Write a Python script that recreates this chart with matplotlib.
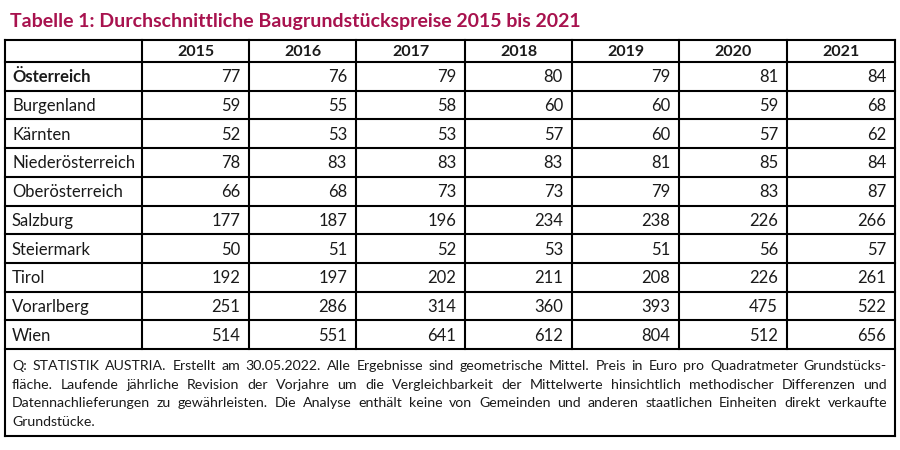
import matplotlib
matplotlib.use("Agg")
import matplotlib.pyplot as plt

# ---- data ----
title = "Tabelle 1: Durchschnittliche Baugrundstückspreise 2015 bis 2021"
years = ["2015", "2016", "2017", "2018", "2019", "2020", "2021"]
regions = ["Österreich", "Burgenland", "Kärnten", "Niederösterreich", "Oberösterreich",
           "Salzburg", "Steiermark", "Tirol", "Vorarlberg", "Wien"]
oesterreich = [77, 76, 79, 80, 79, 81, 84]
burgenland = [59, 55, 58, 60, 60, 59, 68]
kaernten = [52, 53, 53, 57, 60, 57, 62]
niederoesterreich = [78, 83, 83, 83, 81, 85, 84]
oberoesterreich = [66, 68, 73, 73, 79, 83, 87]
salzburg = [177, 187, 196, 234, 238, 226, 266]
steiermark = [50, 51, 52, 53, 51, 56, 57]
tirol = [192, 197, 202, 211, 208, 226, 261]
vorarlberg = [251, 286, 314, 360, 393, 475, 522]
wien = [514, 551, 641, 612, 804, 512, 656]
values = [oesterreich, burgenland, kaernten, niederoesterreich, oberoesterreich,
          salzburg, steiermark, tirol, vorarlberg, wien]
footnote_lines = [
    "Q: STATISTIK AUSTRIA. Erstellt am 30.05.2022. Alle Ergebnisse sind geometrische Mittel. Preis in Euro pro Quadratmeter Grundstücks-",
    "fläche. Laufende jährliche Revision der Vorjahre um die Vergleichbarkeit der Mittelwerte hinsichtlich methodischer Differenzen und",
    "Datennachlieferungen zu gewährleisten. Die Analyse enthält keine von Gemeinden und anderen staatlichen Einheiten direkt verkaufte",
    "Grundstücke.",
]

# ---- layout (pixel coordinates) ----
FONT = "Lato"
TXT = "#1a1a1a"
col_edges = [5, 142, 249, 356, 465, 572, 679, 787, 895]
header_top, header_bot = 40, 62
row_h = 28.7
foot_bot = 436

fig = plt.figure(figsize=(9, 4.5), dpi=100)
ax = fig.add_axes([0, 0, 1, 1])
ax.set_xlim(0, 900)
ax.set_ylim(450, 0)
ax.axis("off")

ax.text(10, 21, title, fontsize=14, fontweight="bold", color="#a8124e",
        family=FONT, va="center", ha="left")

n_rows = len(regions)
row_edges = [header_bot + i * row_h for i in range(n_rows + 1)]
table_bot = row_edges[-1]

lw = 1.5
# horizontal lines
for y in [header_top, header_bot] + row_edges[1:]:
    ax.plot([col_edges[0], col_edges[-1]], [y, y], color="black", lw=lw, solid_capstyle="projecting")
ax.plot([col_edges[0], col_edges[-1]], [foot_bot, foot_bot], color="black", lw=lw, solid_capstyle="projecting")
# vertical lines
for i, x in enumerate(col_edges):
    if i in (0, len(col_edges) - 1):
        ax.plot([x, x], [header_top, foot_bot], color="black", lw=lw)
    else:
        ax.plot([x, x], [header_top, table_bot], color="black", lw=lw)

# header
for j, yr in enumerate(years):
    xc = (col_edges[j + 1] + col_edges[j + 2]) / 2
    ax.text(xc, (header_top + header_bot) / 2 + 1, yr, fontsize=11.5, fontweight="bold",
            color=TXT, family=FONT, ha="center", va="center")

# rows
for i, (name, vals) in enumerate(zip(regions, values)):
    yc = (row_edges[i] + row_edges[i + 1]) / 2 + 1
    ax.text(12, yc, name, fontsize=12, fontweight="bold" if i == 0 else "normal",
            color=TXT, family=FONT, ha="left", va="center")
    for j, v in enumerate(vals):
        ax.text(col_edges[j + 2] - 9, yc, str(v), fontsize=12, color=TXT,
                family=FONT, ha="right", va="center")

# footnote, justified
fig.canvas.draw()
renderer = fig.canvas.get_renderer()
left, right = 12, 887
for k, line in enumerate(footnote_lines):
    y = 366 + k * 18.7
    words = line.split(" ")
    if k == len(footnote_lines) - 1:
        ax.text(left, y, line, fontsize=10.2, color=TXT, family=FONT, ha="left", va="center")
        continue
    texts = [ax.text(0, y, w, fontsize=10.2, color=TXT, family=FONT, ha="left", va="center")
             for w in words]
    widths = [t.get_window_extent(renderer).width for t in texts]
    gap = (right - left - sum(widths)) / (len(words) - 1)
    x = left
    for t, w in zip(texts, widths):
        t.set_x(x)
        x += w + gap

fig.savefig("out.png", dpi=100)
